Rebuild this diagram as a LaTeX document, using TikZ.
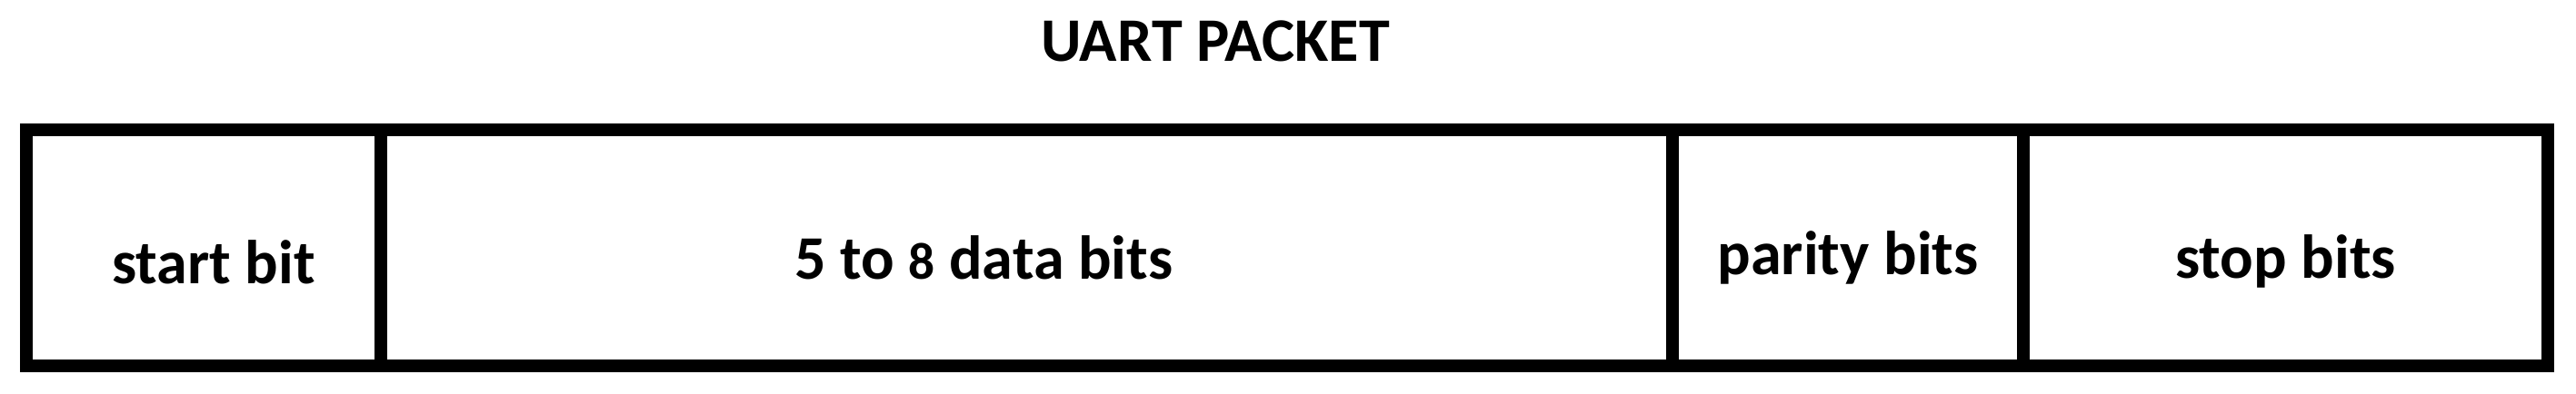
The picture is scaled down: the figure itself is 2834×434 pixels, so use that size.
\documentclass[tikz,border=0pt]{standalone}
\usepackage{fontspec}
\setmainfont{Carlito}
\usetikzlibrary{positioning}

\tikzset{
  cell/.style={draw, line width=0.14cm, minimum height=2.595cm, inner sep=0pt, outer sep=0pt},
  celltext/.style={anchor=base, font=\fontsize{19.4pt}{23pt}\selectfont\bfseries},
}

\begin{document}
\begin{tikzpicture}[x=0.01cm, y=-0.01cm]
  \useasboundingbox (0,0) rectangle (2834,434);

% Title
  \node[celltext] (title) at (1337,68) {UART PACKET};

% Cells
  \node[cell, minimum width=3.895cm]                      (start)  at (224,272.7) {};
  \node[cell, minimum width=14.205cm, right=0pt of start] (data)   {};
  \node[cell, minimum width=3.855cm, right=0pt of data]   (parity) {};
  \node[cell, minimum width=5.77cm, right=0pt of parity]  (stop)   {};

% Labels
  \node[celltext] (starttext)  at ([xshift=0.11cm, yshift=-0.40cm]start.center) {start bit};
  \node[celltext] (datatext)   at ([xshift=-0.47cm, yshift=-0.35cm]data.center) {5 to {\fontsize{16.3pt}{20pt}\selectfont 8} data bits};
  \node[celltext] (paritytext) at ([yshift=-0.30cm]parity.center)               {parity bits};
  \node[celltext] (stoptext)   at ([yshift=-0.34cm]stop.center)                 {stop bits};

\end{tikzpicture}
\end{document}
